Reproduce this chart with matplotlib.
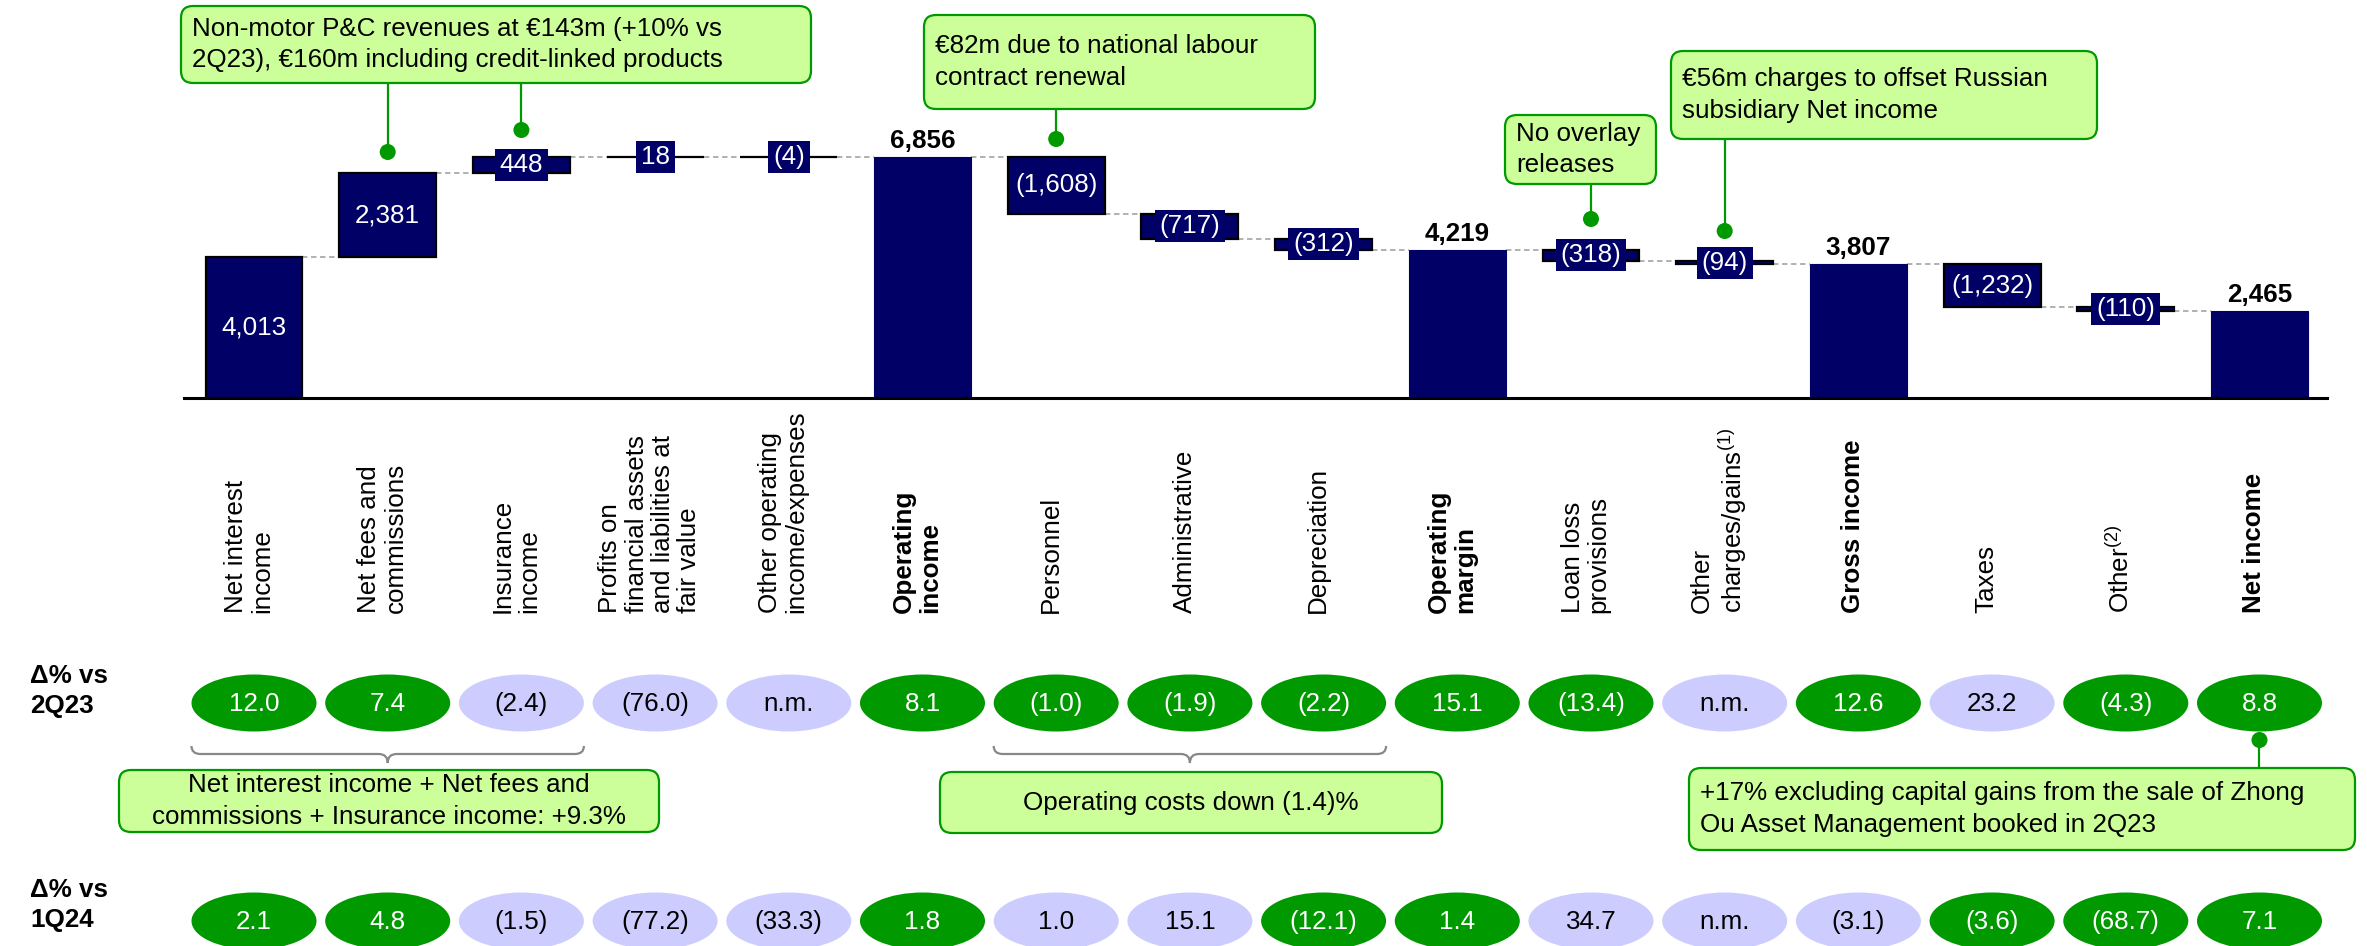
import matplotlib
matplotlib.use("Agg")
import matplotlib.pyplot as plt
from matplotlib.patches import Rectangle, Ellipse, FancyBboxPatch, PathPatch
from matplotlib.path import Path
from matplotlib.transforms import blended_transform_factory

W, H = 2367, 946
NAVY = "#000066"
GREEN = "#009900"
LAVENDER = "#CCCCFF"
NOTE_FILL = "#CCFF99"
DASH_GREY = "#AAAAAA"
BRACE_GREY = "#888888"
FS = 18.7

plt.rcParams["font.family"] = ["Liberation Sans", "DejaVu Sans"]
plt.rcParams["mathtext.fontset"] = "custom"
plt.rcParams["mathtext.rm"] = "Liberation Sans"

# ------------------------------------------------------------------ dados

categories = [
    "Net interest\nincome",
    "Net fees and\ncommissions",
    "Insurance\nincome",
    "Profits on\nfinancial assets\nand liabilities at\nfair value",
    "Other operating\nincome/expenses",
    "Operating\nincome",
    "Personnel",
    "Administrative",
    "Depreciation",
    "Operating\nmargin",
    "Loan loss\nprovisions",
    "Other\ncharges/gains$^{\\mathrm{(1)}}$",
    "Gross income",
    "Taxes",
    "Other$^{\\mathrm{(2)}}$",
    "Net income",
]
is_total = [False, False, False, False, False, True, False, False, False,
            True, False, False, True, False, False, True]
steps = [4013, 2381, 448, 18, -4, 0, -1608, -717, -312,
         0, -318, -94, 0, -1232, -110, 0]

delta_2q23 = ["12.0", "7.4", "(2.4)", "(76.0)", "n.m.", "8.1", "(1.0)", "(1.9)",
              "(2.2)", "15.1", "(13.4)", "n.m.", "12.6", "23.2", "(4.3)", "8.8"]
good_2q23 = [1, 1, 0, 0, 0, 1, 1, 1, 1, 1, 1, 0, 1, 0, 1, 1]

delta_1q24 = ["2.1", "4.8", "(1.5)", "(77.2)", "(33.3)", "1.8", "1.0", "15.1",
              "(12.1)", "1.4", "34.7", "n.m.", "(3.1)", "(3.6)", "(68.7)", "7.1"]
good_1q24 = [1, 1, 0, 0, 0, 1, 0, 0, 1, 1, 0, 0, 0, 1, 1, 1]

row_labels = ["\u0394% vs\n2Q23", "\u0394% vs\n1Q24"]

notes = [
    ("Non-motor P&C revenues at \u20ac143m (+10% vs\n2Q23), \u20ac160m including credit-linked products",
     (181, 6, 630, 77), "left", [(1, 152), (2, 130)]),
    ("\u20ac82m due to national labour\ncontract renewal",
     (924, 15, 391, 94), "left", [(6, 139)]),
    ("No overlay\nreleases", (1505, 115, 151, 69), "left", [(10, 219)]),
    ("\u20ac56m charges to offset Russian\nsubsidiary Net income",
     (1671, 51, 426, 88), "left", [(11, 231)]),
    ("Net interest income + Net fees and\ncommissions + Insurance income: +9.3%",
     (119, 770, 540, 62), "center", []),
    ("Operating costs down (1.4)%", (940, 772, 502, 61), "center", []),
    ("+17% excluding capital gains from the sale of Zhong\nOu Asset Management booked in 2Q23",
     (1689, 768, 666, 82), "left", [(15, 740)]),
]
braces = [(0, 2), (6, 8)]


def fmt(v):
    s = f"{abs(v):,}"
    return f"({s})" if v < 0 else s


# ------------------------------------------------------------------ figura

fig = plt.figure(figsize=(W / 100, H / 100), dpi=100)
base_px = 398
ax = fig.add_axes([184 / W, (H - base_px) / H, (2327 - 184) / W, base_px / H])
ax.set_xlim(-0.5236, 15.505)
ax.set_ylim(0, base_px / 0.035152)
for sp in ["top", "right", "left"]:
    ax.spines[sp].set_visible(False)
ax.spines["bottom"].set_linewidth(2.2)
ax.set_xticks([])
ax.set_yticks([])
ax.patch.set_alpha(0)

# camada de anotações em pixels (origem no canto superior esquerdo)
ov = fig.add_axes([0, 0, 1, 1])
ov.set_xlim(0, W)
ov.set_ylim(H, 0)
ov.axis("off")
ov.patch.set_alpha(0)
bt = blended_transform_factory(ax.transData, ov.transData)

# ------------------------------------------------------------------ cascata

bw = 0.725
running = 0
bottoms, heights, levels = [], [], []
for s, tot in zip(steps, is_total):
    if tot:
        bottoms.append(0)
        heights.append(running)
    else:
        bottoms.append(running)
        heights.append(s)
        running += s
    levels.append(running)

xs = list(range(len(categories)))
for i in xs:
    if is_total[i]:
        ax.bar(i, heights[i], bottom=bottoms[i], width=bw, color=NAVY,
               edgecolor=NAVY, linewidth=0.8, zorder=2)
    else:
        ax.bar(i, heights[i], bottom=bottoms[i], width=bw, color=NAVY,
               edgecolor="black", linewidth=1.6, zorder=2)

for i in xs[:-1]:
    ax.plot([i + bw / 2, i + 1 - bw / 2], [levels[i], levels[i]],
            color=DASH_GREY, lw=1.3, ls=(0, (3, 2)), zorder=1)

renderer = fig.canvas.get_renderer()
to_ov = ov.transData.inverted()
for i in xs:
    if is_total[i]:
        ax.annotate(fmt(heights[i]), (i, heights[i]), xytext=(0, 3),
                    textcoords="offset points", ha="center", va="bottom",
                    fontsize=FS, fontweight="bold", color="black")
        continue
    mid = bottoms[i] + heights[i] / 2
    cx, cy = to_ov.transform(ax.transData.transform((i, mid)))
    t = ov.text(cx, cy, fmt(heights[i]), ha="center", va="center",
                fontsize=FS, color="white", zorder=6)
    tw = t.get_window_extent(renderer).width
    ov.add_patch(Rectangle((cx - tw / 2 - 5, cy - 16), tw + 10, 32,
                           facecolor=NAVY, edgecolor="none", zorder=5))

# rótulos das categorias (rodados)
for i, name in enumerate(categories):
    bold = is_total[i]
    ov.text(i - 0.04, 613, name, transform=bt, rotation=90, ha="center",
            va="bottom", multialignment="left", fontsize=FS,
            fontweight="bold" if bold else "normal", linespacing=1.12)

# ------------------------------------------------------------------ variações

ew, eh = 0.935, 57
for row_y, vals, good in [(703, delta_2q23, good_2q23), (921, delta_1q24, good_1q24)]:
    for i, (v, g) in enumerate(zip(vals, good)):
        ov.add_patch(Ellipse((i, row_y), ew, eh, transform=bt,
                             facecolor=GREEN if g else LAVENDER, edgecolor="none"))
        ov.text(i, row_y + 1, v, transform=bt, ha="center", va="center",
                fontsize=FS, color="white" if g else "black")

for lab, y in zip(row_labels, [691, 905]):
    ov.text(30, y, lab, ha="left", va="center", fontsize=FS,
            fontweight="bold", linespacing=1.32)

# chavetas sob as bolhas
for a, b in braces:
    x0 = ov.transData.inverted().transform(bt.transform((a - ew / 2, 0)))[0]
    x1 = ov.transData.inverted().transform(bt.transform((b + ew / 2, 0)))[0]
    xm = (x0 + x1) / 2
    y0, y1, y2, r = 746, 754, 763, 9
    verts = [(x0, y0), (x0, y1), (x0 + r, y1),
             (xm - r, y1), (xm, y1), (xm, y2),
             (xm, y1), (xm + r, y1),
             (x1 - r, y1), (x1, y1), (x1, y0)]
    codes = [Path.MOVETO, Path.CURVE3, Path.CURVE3,
             Path.LINETO, Path.CURVE3, Path.CURVE3,
             Path.CURVE3, Path.CURVE3,
             Path.LINETO, Path.CURVE3, Path.CURVE3]
    ov.add_patch(PathPatch(Path(verts, codes), facecolor="none",
                           edgecolor=BRACE_GREY, lw=1.6))

# ------------------------------------------------------------------ caixas de nota

for text, (bx, by, bwid, bht), align, pointers in notes:
    ov.add_patch(FancyBboxPatch((bx, by), bwid, bht,
                                boxstyle="round,pad=0,rounding_size=12",
                                facecolor=NOTE_FILL, edgecolor=GREEN, lw=1.6,
                                zorder=4))
    if align == "left":
        ov.text(bx + 11, by + bht / 2, text, ha="left", va="center",
                fontsize=FS, linespacing=1.4, zorder=5)
    else:
        ov.text(bx + bwid / 2, by + bht / 2, text, ha="center", va="center",
                multialignment="center", fontsize=FS, linespacing=1.4, zorder=5)
    for idx, dot_y in pointers:
        edge_y = by if dot_y < by else by + bht
        ov.plot([idx, idx], [edge_y, dot_y], transform=bt, color=GREEN,
                lw=1.6, zorder=3)
        ov.add_patch(Ellipse((idx, dot_y), 16 / 133.7, 16, transform=bt,
                             facecolor=GREEN, edgecolor="none", zorder=3))

fig.savefig("out.png", dpi=100)
